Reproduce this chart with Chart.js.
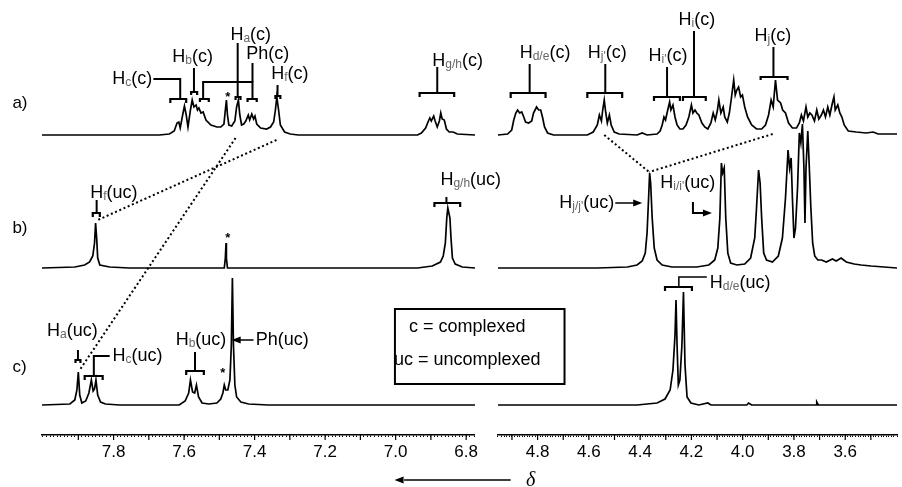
<!DOCTYPE html>
<html>
<head>
<meta charset="utf-8">
<script src="https://cdn.jsdelivr.net/npm/chart.js@4.4.1/dist/chart.umd.min.js"></script>
<style>
  html, body { margin: 0; padding: 0; background: #fff; }
</style>
</head>
<body>
<canvas id="nmr" width="902" height="487"></canvas>
<script>
// tick labels shown on the two ppm axes
const leftTicks = ['7.8', '7.6', '7.4', '7.2', '7.0', '6.8'];
const rightTicks = ['4.8', '4.6', '4.4', '4.2', '4.0', '3.8', '3.6'];
const traceNames = ['a)', 'b)', 'c)'];

// spectra: [ppm, height above the trace baseline]
const aLeft = [[8.003,0],[7.670,0],[7.642,1],[7.628,4],[7.620,12],[7.615,13],[7.611,7],[7.603,22],[7.599,29],[7.594,20],
  [7.589,8],[7.582,25],[7.577,35],[7.572,28],[7.566,30],[7.562,25],[7.558,27],[7.552,22],[7.546,23],[7.538,15],
  [7.524,10],[7.507,8],[7.496,8],[7.487,11],[7.483,25],[7.480,35],[7.477,20],[7.473,10],[7.465,9],[7.456,14],
  [7.451,28],[7.446,35],[7.442,20],[7.437,10],[7.431,11],[7.425,14],[7.418,20],[7.414,15],[7.408,21],[7.403,16],
  [7.399,19],[7.394,11],[7.383,7],[7.366,6],[7.355,8],[7.346,13],[7.341,25],[7.337,38],[7.332,25],[7.327,10],
  [7.315,3],[7.299,1],[7.276,0],[6.938,0],[6.927,2],[6.915,7],[6.907,14],[6.903,17],[6.899,14],[6.892,19],
  [6.888,14],[6.882,8],[6.876,14],[6.872,22],[6.868,16],[6.862,15],[6.856,6],[6.848,3],[6.837,3],[6.825,1],[6.775,0]];

const bLeft = [[8.003,0],[7.910,1],[7.882,3],[7.868,6],[7.859,12],[7.854,25],[7.851,45],[7.848,30],[7.845,10],[7.839,3],
  [7.811,1],[7.755,0],[7.486,0],[7.483,10],[7.481,25],[7.480,10],[7.477,0],[6.938,0],[6.896,2],[6.873,6],
  [6.865,12],[6.859,25],[6.855,50],[6.852,60],[6.849,55],[6.846,50],[6.843,30],[6.839,10],[6.831,4],[6.811,1],[6.775,0]];

const cLeft = [[8.003,0],[7.924,1],[7.910,5],[7.904,15],[7.900,33],[7.896,10],[7.890,2],[7.879,4],[7.870,12],[7.863,25],
  [7.858,14],[7.854,16],[7.850,25],[7.845,10],[7.837,3],[7.823,1],[7.783,0],[7.614,0],[7.597,4],[7.587,12],
  [7.582,25],[7.576,13],[7.570,12],[7.565,20],[7.559,8],[7.549,2],[7.530,1],[7.507,2],[7.496,6],[7.490,12],
  [7.486,20],[7.482,15],[7.476,15],[7.470,25],[7.466,60],[7.463,127],[7.460,60],[7.456,20],[7.451,8],[7.439,3],
  [7.417,1],[7.361,0],[6.775,0]];

const aRight = [[4.955,0],[4.917,1],[4.901,5],[4.893,15],[4.885,22],[4.878,25],[4.870,22],[4.862,23],[4.854,18],[4.847,13],
  [4.835,12],[4.823,14],[4.816,22],[4.804,28],[4.796,25],[4.788,25],[4.781,18],[4.773,8],[4.761,2],[4.738,0],
  [4.606,0],[4.583,3],[4.567,10],[4.559,20],[4.551,14],[4.546,25],[4.540,35],[4.534,22],[4.528,12],[4.520,20],
  [4.513,10],[4.501,3],[4.482,1],[4.412,0],[4.392,2],[4.373,0],[4.334,1],[4.322,4],[4.314,10],[4.307,18],
  [4.301,15],[4.295,22],[4.285,33],[4.280,25],[4.272,30],[4.264,18],[4.256,10],[4.245,6],[4.233,6],[4.221,10],
  [4.210,18],[4.200,30],[4.194,22],[4.186,25],[4.179,22],[4.171,20],[4.159,12],[4.148,8],[4.136,6],[4.124,12],
  [4.115,22],[4.107,15],[4.099,24],[4.093,35],[4.085,22],[4.076,28],[4.070,18],[4.060,13],[4.052,22],[4.045,35],
  [4.035,55],[4.029,40],[4.023,45],[4.016,48],[4.008,38],[4.001,40],[3.992,28],[3.981,18],[3.965,10],[3.946,6],
  [3.926,6],[3.911,10],[3.899,20],[3.889,35],[3.881,28],[3.872,55],[3.864,35],[3.852,32],[3.844,25],[3.833,22],
  [3.821,12],[3.806,7],[3.790,7],[3.779,12],[3.771,20],[3.763,14],[3.753,28],[3.746,18],[3.738,22],[3.730,20],
  [3.720,14],[3.711,25],[3.703,16],[3.693,20],[3.685,25],[3.677,18],[3.668,28],[3.660,20],[3.650,32],[3.644,38],
  [3.639,25],[3.629,30],[3.621,22],[3.613,18],[3.604,10],[3.588,4],[3.557,3],[3.518,2],[3.491,3],[3.472,1],[3.398,1]];

const bRight = [[4.955,0],[4.567,0],[4.450,1],[4.412,3],[4.392,7],[4.380,15],[4.373,35],[4.367,70],[4.363,95],[4.359,85],
  [4.353,50],[4.345,20],[4.334,8],[4.314,3],[4.276,1],[4.179,1],[4.132,3],[4.109,8],[4.097,20],[4.089,50],
  [4.083,105],[4.078,95],[4.072,100],[4.066,50],[4.058,15],[4.047,5],[4.023,3],[3.992,4],[3.969,10],[3.953,30],
  [3.946,60],[3.938,98],[3.932,85],[3.926,50],[3.918,15],[3.907,8],[3.884,6],[3.861,12],[3.845,30],[3.833,70],
  [3.823,118],[3.817,100],[3.811,110],[3.806,70],[3.800,30],[3.794,40],[3.786,80],[3.779,135],[3.773,125],[3.767,144],
  [3.761,100],[3.757,45],[3.753,100],[3.746,137],[3.740,100],[3.734,60],[3.727,25],[3.719,12],[3.707,8],[3.692,8],
  [3.674,6],[3.650,9],[3.635,7],[3.616,10],[3.596,6],[3.565,4],[3.538,3],[3.499,2],[3.398,0]];

const cRight = [[4.955,0],[4.412,0],[4.334,2],[4.303,6],[4.283,15],[4.272,35],[4.264,70],[4.260,105],[4.256,60],[4.251,20],
  [4.245,25],[4.237,60],[4.231,113],[4.225,40],[4.217,8],[4.202,2],[4.171,0],[4.136,2],[4.124,0],[3.984,0],
  [3.977,2],[3.965,0],[3.713,0],[3.711,3],[3.705,0],[3.398,0]];

const FONT = '"Liberation Sans", Arial, Helvetica, sans-serif';

// each trace sits on its own baseline (in chart y units)
const traces = [
  { data: aLeft, axis: 'xL', base: 300 },
  { data: bLeft, axis: 'xL', base: 167 },
  { data: cLeft, axis: 'xL', base: 30 },
  { data: aRight, axis: 'xR', base: 300 },
  { data: bRight, axis: 'xR', base: 167 },
  { data: cRight, axis: 'xR', base: 30 }
];

function tickLabel(list) {
  return function (value) {
    const hit = list.find((t) => Math.abs(parseFloat(t) - value) < 1e-6);
    return hit || '';
  };
}

function ppmAxis(min, max, weight, order, labels) {
  return {
    type: 'linear',
    position: 'bottom',
    stack: 'ppm',
    stackWeight: weight,
    weight: order,
    reverse: true,
    min: min,
    max: max,
    afterFit: (s) => { s.height = 52; },
    border: { display: true, color: '#000', width: 1.6 },
    grid: { display: true, drawOnChartArea: false, drawTicks: true, tickLength: 2, tickColor: '#000', tickWidth: 1 },
    ticks: {
      stepSize: 0.01,
      autoSkip: false,
      maxRotation: 0,
      minRotation: 0,
      padding: 5,
      color: '#000',
      font: { family: FONT, size: 17 },
      callback: tickLabel(labels)
    }
  };
}

// annotations: labels, brackets, arrows, dotted correlation lines
const notes = {
  id: 'notes',
  afterDraw(chart) {
    const ctx = chart.ctx;
    const sL = chart.scales.xL, sR = chart.scales.xR, sY = chart.scales.y;
    const L = (v) => sL.getPixelForValue(v);
    const R = (v) => sR.getPixelForValue(v);
    const Y = (v) => sY.getPixelForValue(v);
    ctx.save();
    ctx.strokeStyle = '#000';
    ctx.fillStyle = '#000';

    function path(pts, w) {
      ctx.lineWidth = w || 2;
      ctx.setLineDash([]);
      ctx.beginPath();
      pts.forEach((p, i) => (i ? ctx.lineTo(p[0], p[1]) : ctx.moveTo(p[0], p[1])));
      ctx.stroke();
    }
    function bracket(x1, x2, yTop, yEnd) {
      path([[x1, yEnd], [x1, yTop], [x2, yTop], [x2, yEnd]], 2.2);
    }
    function head(x, y, dir) {
      ctx.beginPath();
      ctx.moveTo(x, y);
      ctx.lineTo(x - dir * 9, y - 3.5);
      ctx.lineTo(x - dir * 9, y + 3.5);
      ctx.closePath();
      ctx.fill();
    }
    function dotted(x1, y1, x2, y2) {
      ctx.lineWidth = 2;
      ctx.setLineDash([2, 2.6]);
      ctx.beginPath();
      ctx.moveTo(x1, y1);
      ctx.lineTo(x2, y2);
      ctx.stroke();
      ctx.setLineDash([]);
    }
    function label(x, y, main, sub, rest, align) {
      ctx.textBaseline = 'middle';
      ctx.textAlign = 'left';
      ctx.font = '18px ' + FONT;
      const w1 = ctx.measureText(main).width;
      const w3 = ctx.measureText(rest).width;
      ctx.font = '12px ' + FONT;
      const w2 = sub ? ctx.measureText(sub).width : 0;
      const total = w1 + w2 + w3;
      const x0 = align === 'left' ? x : align === 'right' ? x - total : x - total / 2;
      ctx.font = '18px ' + FONT;
      ctx.fillStyle = '#000';
      ctx.fillText(main, x0, y);
      if (sub) {
        ctx.font = '12px ' + FONT;
        ctx.fillStyle = '#666';
        ctx.fillText(sub, x0 + w1, y + 4);
      }
      ctx.font = '18px ' + FONT;
      ctx.fillStyle = '#000';
      ctx.fillText(rest, x0 + w1 + w2, y);
    }
    function star(x, y) {
      ctx.font = 'bold 13px ' + FONT;
      ctx.textAlign = 'center';
      ctx.textBaseline = 'alphabetic';
      ctx.fillStyle = '#000';
      ctx.fillText('*', x, y + 7);
    }

    // --- trace a), left ---
    label(L(7.690), Y(356), 'H', 'c', '(c)', 'right');
    path([[L(7.687), Y(356)], [L(7.611), Y(356)], [L(7.611), Y(336)]]);
    bracket(L(7.639), L(7.594), Y(336), Y(332));
    label(L(7.576), Y(378), 'H', 'b', '(c)', 'center');
    path([[L(7.572), Y(367)], [L(7.572), Y(343)]]);
    bracket(L(7.580), L(7.563), Y(343), Y(340));
    path([[L(7.546), Y(336)], [L(7.546), Y(353)], [L(7.406), Y(353)], [L(7.406), Y(336)]]);
    bracket(L(7.555), L(7.530), Y(336), Y(333));
    bracket(L(7.420), L(7.394), Y(336), Y(333));
    path([[L(7.406), Y(372)], [L(7.406), Y(353)]]);
    label(L(7.363), Y(381), 'Ph', '', '(c)', 'center');
    label(L(7.411), Y(400), 'H', 'a', '(c)', 'center');
    path([[L(7.448), Y(392)], [L(7.448), Y(338)]]);
    bracket(L(7.454), L(7.440), Y(338), Y(335));
    label(L(7.300), Y(361), 'H', 'f', '(c)', 'center');
    path([[L(7.335), Y(350)], [L(7.335), Y(339)]]);
    bracket(L(7.341), L(7.327), Y(339), Y(336));
    star(L(7.476), Y(341));
    label(L(6.896), Y(374), 'H', 'g/h', '(c)', 'left');
    path([[L(6.882), Y(368)], [L(6.882), Y(342)]]);
    bracket(L(6.932), L(6.834), Y(342), Y(338));

    // --- trace b), left ---
    label(L(7.799), Y(242), 'H', 'f', '(uc)', 'center');
    path([[L(7.848), Y(235)], [L(7.848), Y(222)]]);
    bracket(L(7.859), L(7.839), Y(222), Y(218));
    label(L(6.873), Y(255), 'H', 'g/h', '(uc)', 'left');
    path([[L(6.856), Y(238)], [L(6.856), Y(232)]]);
    bracket(L(6.890), L(6.817), Y(232), Y(228));
    star(L(7.476), Y(200));
    dotted(L(7.338), Y(295), L(7.845), Y(215));
    dotted(L(7.454), Y(297), L(7.896), Y(65));

    // --- trace c), left ---
    label(L(7.917), Y(104), 'H', 'a', '(uc)', 'center');
    path([[L(7.901), Y(85)], [L(7.901), Y(75)]]);
    bracket(L(7.908), L(7.894), Y(75), Y(72));
    label(L(7.803), Y(79), 'H', 'c', '(uc)', 'left');
    path([[L(7.811), Y(79)], [L(7.856), Y(79)], [L(7.856), Y(59)]]);
    bracket(L(7.882), L(7.831), Y(59), Y(55));
    label(L(7.552), Y(95), 'H', 'b', '(uc)', 'center');
    path([[L(7.569), Y(83)], [L(7.569), Y(64)]]);
    bracket(L(7.594), L(7.544), Y(64), Y(60));
    star(L(7.490), Y(65));
    label(L(7.397), Y(95), 'Ph', '', '(uc)', 'left');
    path([[L(7.403), Y(95)], [L(7.452), Y(95)]], 1.5);
    head(L(7.465), Y(95), -1);

    // --- trace a), right ---
    label(R(4.771), Y(382), 'H', 'd/e', '(c)', 'center');
    path([[R(4.831), Y(371)], [R(4.831), Y(342)]]);
    bracket(R(4.905), R(4.769), Y(342), Y(337));
    label(R(4.528), Y(382), 'H', "j'", '(c)', 'center');
    path([[R(4.536), Y(371)], [R(4.536), Y(342)]]);
    bracket(R(4.606), R(4.470), Y(342), Y(337));
    label(R(4.291), Y(379), 'H', "i'", '(c)', 'center');
    path([[R(4.295), Y(368)], [R(4.295), Y(338)]]);
    bracket(R(4.346), R(4.245), Y(338), Y(334));
    label(R(4.179), Y(415), 'H', 'i', '(c)', 'center');
    path([[R(4.190), Y(404)], [R(4.190), Y(338)]]);
    bracket(R(4.233), R(4.144), Y(338), Y(334));
    label(R(3.882), Y(399), 'H', 'j', '(c)', 'center');
    path([[R(3.880), Y(388)], [R(3.880), Y(358)]]);
    bracket(R(3.930), R(3.825), Y(358), Y(355));

    // --- trace b), right ---
    label(R(4.501), Y(232), 'H', "j/j'", '(uc)', 'right');
    path([[R(4.497), Y(232)], [R(4.405), Y(232)]], 1.5);
    head(R(4.392), Y(232), 1);
    label(R(4.214), Y(252), 'H', "i/i'", '(uc)', 'center');
    path([[R(4.194), Y(233)], [R(4.194), Y(222)], [R(4.133), Y(222)]], 2);
    head(R(4.120), Y(222), 1);
    dotted(R(4.540), Y(300), R(4.365), Y(263));
    dotted(R(3.883), Y(301), R(4.365), Y(263));

    // --- trace c), right ---
    bracket(R(4.303), R(4.198), Y(148), Y(144));
    path([[R(4.249), Y(148)], [R(4.249), Y(158)], [R(4.140), Y(158)]], 1.5);
    label(R(4.128), Y(152), 'H', 'd/e', '(uc)', 'left');

    // legend box
    const bx1 = L(7.002), bx2 = R(4.695), by1 = Y(126), by2 = Y(51);
    ctx.lineWidth = 2;
    ctx.strokeRect(bx1, by1, bx2 - bx1, by2 - by1);
    ctx.font = '18px ' + FONT;
    ctx.textAlign = 'center';
    ctx.textBaseline = 'middle';
    ctx.fillStyle = '#000';
    ctx.fillText('c = complexed', L(6.797), Y(108));
    ctx.fillText('uc = uncomplexed', L(6.797), Y(75));

    // trace names
    ctx.font = '17px ' + FONT;
    ctx.textAlign = 'left';
    ctx.fillText(traceNames[0], L(8.087), Y(332));
    ctx.fillText(traceNames[1], L(8.087), Y(207));
    ctx.fillText(traceNames[2], L(8.087), Y(68));

    // longer marks every 0.1 ppm
    [sL, sR].forEach((s) => {
      ctx.lineWidth = 1.2;
      s.ticks.forEach((t) => {
        if (Math.abs(t.value * 10 - Math.round(t.value * 10)) < 1e-6) {
          const x = s.getPixelForValue(t.value);
          ctx.beginPath();
          ctx.moveTo(x, s.top);
          ctx.lineTo(x, s.top + 5);
          ctx.stroke();
        }
      });
    });

    // direction arrow and delta
    path([[R(4.905), Y(-45)], [L(6.976), Y(-45)]], 1.5);
    head(L(7.003), Y(-45), -1);
    ctx.font = 'italic 20px "Liberation Serif", "DejaVu Serif", serif';
    ctx.textAlign = 'center';
    ctx.textBaseline = 'middle';
    ctx.fillText('\u03b4', R(4.827), Y(-46));
    ctx.restore();
  }
};

new Chart(document.getElementById('nmr'), {
  type: 'line',
  data: {
    datasets: traces.map((t) => ({
      data: t.data.map((p) => ({ x: p[0], y: t.base + p[1] })),
      xAxisID: t.axis,
      yAxisID: 'y',
      borderColor: '#000',
      borderWidth: 1.7,
      pointRadius: 0,
      tension: 0,
      fill: false
    }))
  },
  options: {
    responsive: false,
    animation: false,
    layout: { padding: { left: 42, right: 1, top: 0, bottom: 0 } },
    plugins: { legend: { display: false }, tooltip: { enabled: false } },
    scales: {
      xL: ppmAxis(6.775, 8.003, 435, 1, leftTicks),
      xGap: {
        type: 'linear', position: 'bottom', stack: 'ppm', stackWeight: 23, weight: 2,
        display: false, min: 0, max: 1, afterFit: (s) => { s.height = 52; }
      },
      xR: ppmAxis(3.398, 4.955, 401, 3, rightTicks),
      y: { display: false, min: 0, max: 435 }
    }
  },
  plugins: [notes]
});
</script>
</body>
</html>
